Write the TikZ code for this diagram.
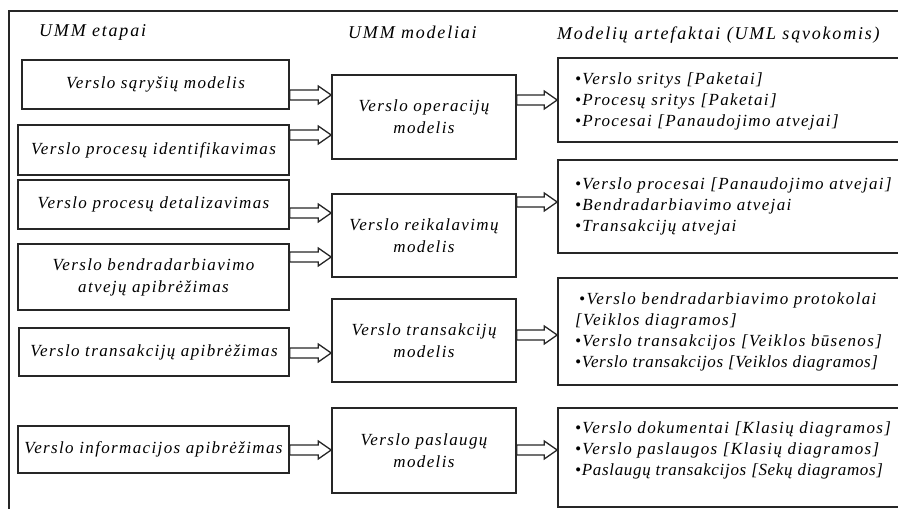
\documentclass[tikz,border=0pt]{standalone}
\usepackage{fontspec}
\setmainfont{Liberation Serif}
\newfontfamily\spacedserif[LetterSpace=8]{Liberation Serif}
\newfontfamily\widerserif[LetterSpace=10]{Liberation Serif}
\newfontfamily\tighterserif[LetterSpace=4]{Liberation Serif}
\usetikzlibrary{calc}
\newcommand{\labelfont}{\spacedserif\itshape\fontsize{17}{22}\selectfont}
\newcommand{\itemfont}{\spacedserif\itshape\fontsize{17}{21}\selectfont}
\newcommand{\headfont}{\widerserif\itshape\fontsize{18}{22}\selectfont}
\newcommand{\tight}{\tighterserif\itshape}
\newcommand{\itm}{\textbullet}
\begin{document}
\begin{tikzpicture}[x={(1pt,0)}, y={(0,-1pt)},
  box/.style={draw=black!85, line width=1.6pt, fill=white, inner sep=0pt,
    font=\labelfont, align=center},
  head/.style={font=\headfont, anchor=west, inner sep=0pt},
  items/.style={font=\itemfont, anchor=west, align=left, inner sep=0pt},
  blockarrow/.style={draw=black!85, line width=1.3pt, fill=white, line join=miter,
    to path={let \p1=(\tikztostart), \p2=(\tikztotarget) in
      (\x1,\y1+5pt) -- (\x2-13pt,\y1+5pt) -- (\x2-13pt,\y1+9pt) -- (\x2,\y1)
      -- (\x2-13pt,\y1-9pt) -- (\x2-13pt,\y1-5pt) -- (\x1,\y1-5pt) -- cycle}}]
\useasboundingbox (0,0) rectangle (898,509);
\begin{scope}
\clip (0,0) rectangle (898,509);

% outer frame (top and left edges)
\draw[line width=2pt, black!85] (9,509) -- (9,11) -- (905,11);

% column headings
\node[head] (h1) at (39,32) {UMM etapai};
\node[head] (h2) at (348,32) {UMM modeliai};
\node[head] (h3) at (557,35) {Modelių artefaktai (UML sąvokomis)};

% UMM stages
\node[box, minimum width=267pt, minimum height=49pt] (a1) at (155.5,84.5) {Verslo sąryšių modelis};
\node[box, minimum width=271pt, minimum height=50pt] (a2) at (153.5,150) {Verslo procesų identifikavimas};
\node[box, minimum width=271pt, minimum height=49pt] (a3) at (153.5,204.5) {Verslo procesų detalizavimas};
\node[box, minimum width=271pt, minimum height=66pt] (a4) at (153.5,277) {Verslo bendradarbiavimo\\atvejų apibrėžimas};
\node[box, minimum width=270pt, minimum height=48pt] (a5) at (154,352) {Verslo transakcijų apibrėžimas};
\node[box, minimum width=271pt, minimum height=47pt] (a6) at (153.5,449.5) {Verslo informacijos apibrėžimas};

% UMM models
\node[box, minimum width=184pt, minimum height=84pt] (mA) at (424,117) {Verslo operacijų\\modelis};
\node[box, minimum width=184pt, minimum height=83pt] (mB) at (424,235.5) {Verslo reikalavimų\\modelis};
\node[box, minimum width=184pt, minimum height=83pt] (mC) at (424,340.5) {Verslo transakcijų\\modelis};
\node[box, minimum width=184pt, minimum height=85pt] (mD) at (424,450.5) {Verslo paslaugų\\modelis};

% model artefacts
\node[box, minimum width=352pt, minimum height=84pt] (r1) at (734,100) {};
\node[box, minimum width=352pt, minimum height=93pt] (r2) at (734,206.5) {};
\node[box, minimum width=352pt, minimum height=107pt] (r3) at (734,331.5) {};
\node[box, minimum width=352pt, minimum height=99pt] (r4) at (734,457.5) {};

\node[items] (t1) at (575,101.5) {\itm Verslo sritys [Paketai]\\\itm Procesų sritys [Paketai]\\\itm Procesai [Panaudojimo atvejai]};
\node[items] (t2) at (575,206.5) {\itm Verslo procesai [Panaudojimo atvejai]\\\itm Bendradarbiavimo atvejai\\\itm Transakcijų atvejai};
\node[items] (t3) at (575,332) {\hspace{4pt}\itm Verslo bendradarbiavimo protokolai\\{}[Veiklos diagramos]\\\itm Verslo transakcijos [Veiklos būsenos]\\{\tight\itm Verslo transakcijos [Veiklos diagramos]}};
\node[items] (t4) at (575,450) {\itm Verslo dokumentai [Klasių diagramos]\\\itm Verslo paslaugos [Klasių diagramos]\\{\tight\itm Paslaugų transakcijos [Sekų diagramos]}};

% block arrows: stages to models
\draw[blockarrow] (a1.east |- 0,95) to (mA.west |- 0,95);
\draw[blockarrow] (a2.east |- 0,135) to (mA.west |- 0,135);
\draw[blockarrow] (a3.east |- 0,213) to (mB.west |- 0,213);
\draw[blockarrow] (a4.east |- 0,257) to (mB.west |- 0,257);
\draw[blockarrow] (a5.east |- 0,353) to (mC.west |- 0,353);
\draw[blockarrow] (a6.east |- 0,450) to (mD.west |- 0,450);

% block arrows: models to artefacts
\draw[blockarrow] (mA.east |- 0,100) to (r1.west |- 0,100);
\draw[blockarrow] (mB.east |- 0,202) to (r2.west |- 0,202);
\draw[blockarrow] (mC.east |- 0,335) to (r3.west |- 0,335);
\draw[blockarrow] (mD.east |- 0,450) to (r4.west |- 0,450);
\end{scope}
\end{tikzpicture}
\end{document}
